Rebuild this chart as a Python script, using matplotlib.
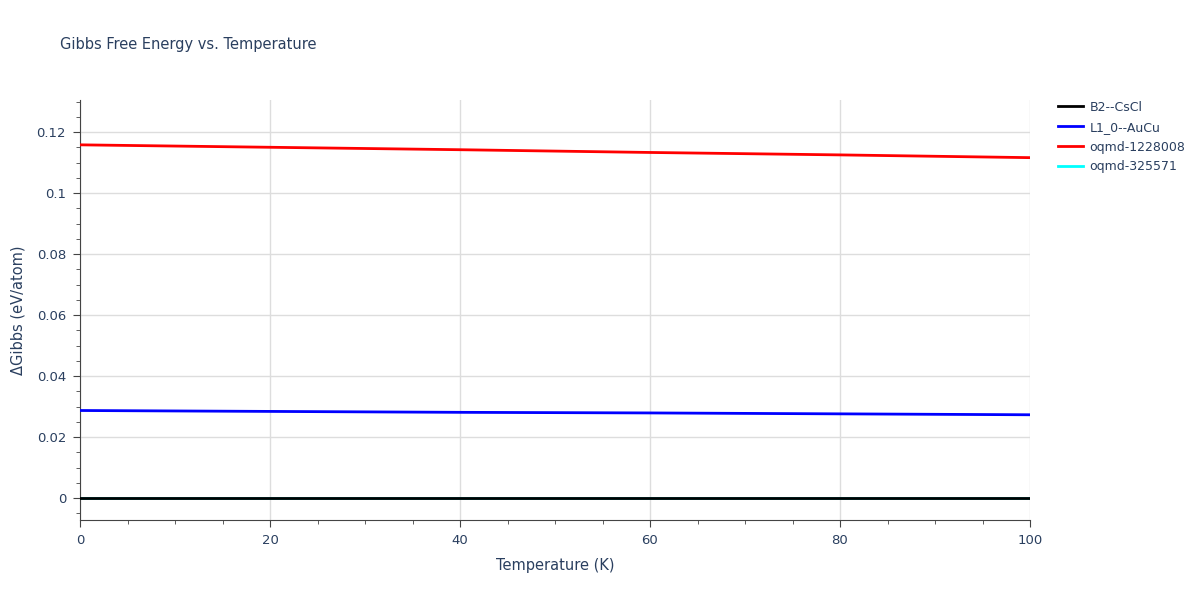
import matplotlib
matplotlib.use("Agg")
import matplotlib.pyplot as plt
from matplotlib.ticker import MultipleLocator

temps = [0, 20, 40, 60, 80, 100]
b2 = [0, 0, 0, 0, 0, 0]
l10 = [0.0287, 0.0284, 0.0281, 0.0279, 0.0276, 0.0273]
oq1228008 = [0.1158, 0.1150, 0.1142, 0.1133, 0.1125, 0.1116]
oq325571 = [0, 0, 0, 0, 0, 0]

fig = plt.figure(figsize=(12, 6), dpi=100)
ax = fig.add_axes([80/1200, 80/600, 950/1200, 420/600])
txt = '#2a3f5f'
ax.plot(temps, oq325571, color='cyan', lw=2, label='oqmd-325571', zorder=2)
ax.plot(temps, b2, color='black', lw=2, label='B2--CsCl', zorder=3)
ax.plot(temps, l10, color='blue', lw=2, label='L1_0--AuCu', zorder=3)
ax.plot(temps, oq1228008, color='red', lw=2, label='oqmd-1228008', zorder=3)
ax.set_xlim(0, 100)
ax.set_ylim(-0.0072, 0.1305)
ax.xaxis.set_major_locator(MultipleLocator(20))
ax.xaxis.set_minor_locator(MultipleLocator(5))
ax.yaxis.set_minor_locator(MultipleLocator(0.005))
ax.set_yticks([0, 0.02, 0.04, 0.06, 0.08, 0.1, 0.12])
ax.set_yticklabels(['0', '0.02', '0.04', '0.06', '0.08', '0.1', '0.12'])
ax.grid(True, which='major', color='#dddddd', lw=1)
ax.set_axisbelow(True)
for s in ['top', 'right']:
    ax.spines[s].set_visible(False)
for s in ['left', 'bottom']:
    ax.spines[s].set_color('#444444')
ax.tick_params(which='major', length=5, color='#444444', labelcolor=txt, labelsize=9.5, pad=5)
ax.tick_params(which='minor', length=3, color='#444444')
ax.set_xlabel('Temperature (K)', color=txt, fontsize=10.5, labelpad=8)
ax.set_ylabel('ΔGibbs (eV/atom)', color=txt, fontsize=10.5, labelpad=8)
fig.text(60/1200, 1-45/600, 'Gibbs Free Energy vs. Temperature', color=txt, fontsize=10.5, va='center')
h, l = ax.get_legend_handles_labels()
order = [1, 2, 3, 0]
leg = ax.legend([h[i] for i in order], [l[i] for i in order], loc='upper left',
                bbox_to_anchor=(1.018, 1.025), frameon=False, fontsize=9,
                handlelength=2, labelspacing=0.55, handletextpad=0.5)
for t in leg.get_texts():
    t.set_color(txt)
fig.savefig('out.png', dpi=100)
